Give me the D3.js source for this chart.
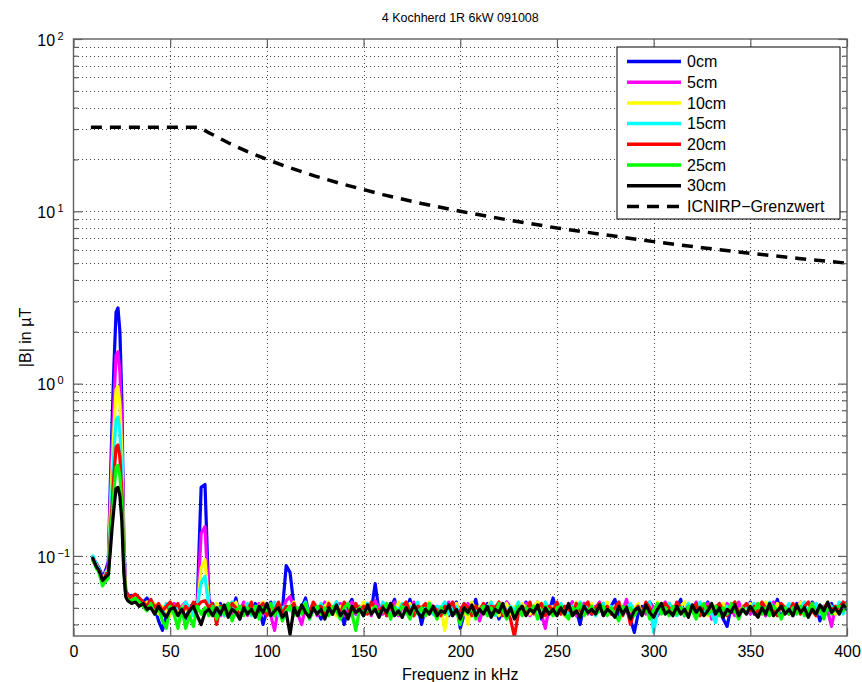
<!DOCTYPE html>
<html><head><meta charset="utf-8">
<script src="https://d3js.org/d3.v7.min.js"></script>
<style>body{margin:0;background:#fff}text{font-family:"Liberation Sans",Arial,sans-serif;fill:#000}</style>
</head><body><svg id="c" width="862" height="682"></svg>
<script>
const chartTitle = "4 Kochherd 1R 6kW 091008";
const xLabel = "Frequenz in kHz";
const yLabel = "|B| in µT";
const seriesNames = ["0cm","5cm","10cm","15cm","20cm","25cm","30cm"];
const seriesColors = ["#0000ff","#ff00ff","#ffff00","#00ffff","#ff0000","#00ff00","#000000"];
const limitName = "ICNIRP\u2212Grenzwert";
const xTicks = [0,50,100,150,200,250,300,350,400];
const yTickExps = [-1,0,1,2];

// sampling grid (kHz): 1 kHz steps up to 30, then 2 kHz steps
const freq = d3.range(10,31,1).concat(d3.range(32,401,2));

const v0cm = [.098,.093,.090,.086,.081,.076,.079,.085,.093,.25,.63,1.35,2.6,2.75,2.0,.8,.126,.063,.060,.058,.059,
.057,.057,.054,.057,.051,.050,.042,.037,.045,.053,
.048,.051,.046,.043,.050,.053,.054,.250,.260,.056,
.050,.046,.053,.045,.051,.048,.057,.043,.050,.051,
.046,.053,.050,.040,.048,.054,.045,.051,.048,.088,
.080,.051,.046,.050,.057,.045,.051,.048,.043,.053,
.050,.046,.054,.048,.040,.051,.056,.046,.050,.045,
.051,.048,.069,.048,.053,.045,.050,.056,.046,.051,
.048,.056,.045,.051,.040,.050,.053,.046,.051,.048,
.053,.045,.050,.054,.038,.046,.051,.048,.056,.045,
.050,.053,.046,.051,.043,.048,.054,.050,.045,.051,
.048,.054,.046,.050,.053,.043,.051,.048,.057,.046,
.051,.045,.050,.054,.048,.040,.053,.050,.046,.051,
.048,.053,.046,.051,.056,.045,.050,.048,.043,.036,
.046,.051,.048,.054,.050,.045,.051,.048,.053,.046,
.050,.056,.045,.051,.048,.053,.046,.050,.054,.045,
.051,.048,.043,.039,.050,.053,.046,.051,.048,.054,
.046,.050,.053,.045,.051,.048,.056,.046,.050,.051,
.045,.053,.048,.051,.046,.054,.050,.042,.051,.048,
.053,.046,.051,.050,.054];

const v5cm = [.096,.094,.088,.084,.079,.074,.077,.082,.087,.203,.44,.836,1.46,1.53,1.17,.535,.112,.062,.058,.056,.057,
.057,.056,.053,.050,.054,.048,.051,.045,.050,.046,
.053,.048,.051,.054,.046,.050,.051,.135,.148,.053,
.048,.051,.045,.050,.053,.046,.051,.048,.054,.045,
.051,.048,.053,.046,.050,.045,.037,.051,.048,.055,
.058,.050,.046,.040,.051,.048,.053,.045,.050,.054,
.046,.051,.048,.053,.045,.050,.054,.046,.051,.048,
.053,.045,.055,.050,.046,.051,.048,.054,.045,.050,
.051,.046,.054,.048,.050,.045,.053,.051,.046,.050,
.048,.054,.045,.051,.050,.046,.053,.048,.051,.042,
.050,.046,.053,.048,.051,.045,.054,.050,.046,.051,
.048,.053,.045,.050,.054,.046,.038,.051,.048,.053,
.046,.051,.050,.054,.045,.048,.053,.046,.051,.050,
.054,.045,.050,.051,.046,.053,.048,.056,.045,.050,
.051,.048,.046,.053,.050,.045,.051,.054,.048,.046,
.053,.050,.045,.051,.048,.054,.046,.050,.053,.043,
.048,.051,.046,.053,.050,.045,.054,.048,.051,.046,
.050,.053,.048,.045,.051,.054,.046,.050,.048,.051,
.046,.051,.054,.048,.045,.050,.053,.046,.051,.048,
.039,.051,.048,.053,.050];

const v10cm = [.095,.091,.089,.083,.078,.072,.076,.081,.083,.171,.332,.572,.92,.96,.762,.391,.103,.061,.059,.055,.056,
.057,.057,.051,.054,.050,.053,.046,.051,.048,.045,
.051,.046,.050,.053,.045,.051,.048,.085,.095,.051,
.046,.053,.050,.045,.051,.048,.054,.046,.050,.053,
.048,.045,.051,.054,.046,.050,.053,.048,.045,.051,
.050,.054,.046,.051,.048,.045,.053,.050,.046,.051,
.054,.048,.045,.051,.050,.053,.046,.051,.048,.054,
.046,.051,.050,.045,.053,.048,.051,.046,.054,.050,
.048,.053,.045,.051,.050,.046,.054,.048,.043,.050,
.037,.051,.048,.053,.046,.050,.040,.054,.048,.051,
.046,.051,.054,.048,.045,.050,.053,.046,.051,.048,
.053,.050,.046,.051,.054,.048,.045,.051,.050,.053,
.048,.045,.051,.050,.054,.046,.051,.048,.053,.045,
.051,.048,.054,.046,.050,.053,.045,.051,.048,.050,
.053,.046,.051,.048,.045,.054,.050,.046,.051,.048,
.045,.051,.054,.048,.050,.046,.053,.051,.045,.050,
.051,.048,.053,.046,.050,.054,.045,.051,.048,.053,
.048,.051,.046,.054,.050,.045,.053,.048,.051,.046,
.051,.048,.054,.046,.050,.053,.045,.051,.048,.054,
.050,.046,.053,.048,.051];

const v15cm = [.100,.094,.087,.085,.077,.073,.075,.080,.080,.147,.26,.412,.618,.64,.525,.298,.096,.060,.057,.056,.055,
.057,.057,.053,.050,.056,.048,.051,.046,.053,.050,
.046,.051,.048,.054,.050,.045,.051,.070,.076,.050,
.053,.048,.051,.045,.050,.054,.046,.051,.048,.053,
.045,.051,.050,.053,.046,.048,.054,.045,.050,.051,
.048,.053,.046,.050,.054,.045,.051,.048,.053,.046,
.051,.050,.054,.045,.048,.053,.046,.051,.050,.045,
.053,.048,.051,.046,.054,.050,.045,.051,.048,.053,
.046,.051,.048,.054,.045,.050,.053,.046,.051,.050,
.054,.046,.050,.051,.045,.053,.048,.051,.046,.050,
.051,.048,.054,.045,.050,.053,.046,.051,.048,.054,
.046,.050,.053,.048,.051,.045,.054,.050,.046,.051,
.053,.048,.045,.051,.050,.054,.046,.051,.048,.045,
.050,.053,.046,.051,.048,.054,.045,.050,.053,.048,
.051,.046,.050,.054,.036,.048,.051,.046,.053,.050,
.045,.051,.048,.053,.050,.046,.054,.048,.051,.046,
.041,.053,.046,.051,.048,.054,.045,.050,.051,.048,
.053,.046,.051,.048,.054,.050,.045,.051,.048,.053,
.046,.051,.050,.054,.045,.048,.053,.046,.051,.050,
.051,.048,.054,.046,.053];

const v20cm = [.094,.090,.086,.082,.078,.071,.074,.079,.077,.129,.206,.304,.427,.44,.372,.232,.0895,.062,.060,.057,.058,
.060,.057,.054,.051,.056,.050,.053,.048,.051,.054,
.050,.053,.046,.051,.048,.054,.051,.054,.055,.050,
.053,.040,.051,.051,.046,.053,.050,.045,.051,.048,
.054,.046,.050,.053,.045,.051,.048,.054,.046,.051,
.050,.053,.045,.051,.048,.046,.054,.050,.051,.045,
.053,.048,.051,.046,.054,.050,.045,.053,.048,.051,
.046,.054,.050,.048,.051,.045,.053,.050,.046,.051,
.054,.048,.045,.051,.050,.053,.046,.051,.048,.045,
.051,.050,.054,.046,.048,.053,.050,.045,.051,.048,
.053,.046,.051,.050,.054,.045,.048,.043,.034,.046,
.051,.048,.054,.046,.050,.053,.045,.051,.048,.054,
.046,.051,.050,.045,.053,.048,.051,.054,.046,.050,
.053,.048,.051,.046,.050,.054,.045,.051,.040,.048,
.051,.046,.054,.050,.045,.051,.048,.053,.050,.046,
.054,.050,.046,.051,.048,.053,.045,.050,.051,.048,
.050,.053,.048,.045,.051,.054,.046,.050,.053,.048,
.051,.046,.054,.050,.048,.051,.045,.053,.050,.046,
.053,.050,.046,.051,.054,.048,.045,.051,.050,.053,
.048,.051,.050,.054,.051];

const v25cm = [.095,.089,.084,.081,.074,.067,.070,.072,.0745,.116,.175,.244,.327,.335,.29,.193,.085,.059,.056,.054,.055,
.057,.054,.051,.048,.053,.046,.050,.042,.038,.051,
.046,.038,.050,.038,.045,.039,.051,.046,.050,.045,
.051,.043,.050,.046,.053,.042,.048,.051,.045,.050,
.046,.051,.043,.050,.048,.053,.045,.050,.042,.048,
.051,.045,.050,.046,.053,.043,.048,.051,.046,.050,
.045,.051,.048,.043,.050,.053,.046,.037,.050,.045,
.050,.046,.051,.045,.048,.053,.043,.050,.046,.051,
.048,.043,.051,.046,.050,.045,.053,.048,.043,.050,
.046,.051,.046,.048,.040,.050,.046,.051,.043,.048,
.051,.045,.050,.046,.053,.048,.043,.050,.046,.051,
.045,.050,.048,.051,.043,.046,.051,.048,.045,.050,
.051,.046,.043,.050,.048,.053,.045,.048,.051,.046,
.048,.051,.045,.050,.046,.042,.051,.048,.050,.045,
.050,.046,.051,.043,.048,.053,.046,.050,.045,.051,
.046,.050,.045,.051,.048,.043,.050,.053,.046,.048,
.051,.045,.050,.046,.053,.048,.043,.050,.046,.051,
.048,.053,.046,.050,.045,.051,.048,.043,.050,.046,
.050,.046,.051,.045,.048,.053,.046,.050,.043,.051,
.046,.050,.051,.048,.053];

const v30cm = [.097,.091,.086,.083,.078,.072,.074,.076,.078,.105,.147,.193,.246,.25,.223,.159,.081,.058,.055,.054,.053,
.054,.051,.053,.049,.050,.046,.051,.047,.044,.049,
.050,.045,.049,.044,.048,.051,.045,.040,.047,.049,
.045,.050,.046,.052,.044,.049,.047,.043,.050,.046,
.049,.044,.051,.047,.053,.045,.048,.050,.044,.047,
.035,.050,.045,.052,.047,.044,.050,.046,.049,.043,
.050,.046,.052,.045,.048,.043,.051,.047,.049,.045,
.052,.046,.049,.044,.050,.047,.053,.045,.048,.044,
.050,.046,.052,.047,.044,.049,.046,.051,.045,.048,
.047,.052,.045,.049,.043,.050,.047,.052,.045,.049,
.046,.051,.044,.049,.047,.053,.045,.050,.043,.048,
.051,.045,.049,.047,.052,.044,.050,.046,.049,.045,
.050,.046,.053,.045,.048,.044,.051,.047,.049,.046,
.052,.045,.049,.047,.044,.051,.046,.050,.043,.048,
.050,.045,.052,.047,.044,.049,.053,.046,.048,.045,
.051,.046,.049,.044,.052,.047,.050,.045,.048,.053,
.046,.050,.044,.049,.047,.052,.045,.049,.046,.051,
.047,.044,.050,.046,.053,.045,.048,.051,.046,.049,
.045,.052,.047,.050,.044,.049,.046,.052,.048,.054,
.047,.050,.046,.052,.049];

const seriesValues = [v0cm,v5cm,v10cm,v15cm,v20cm,v25cm,v30cm];

const limitFreq = [9,65,70,80,90,100,110,125,140,160,180,200,225,250,275,300,325,350,375,400];
const limitVals = [30.7,30.7,28.6,25,22.2,20,18.2,16,14.3,12.5,11.1,10,8.9,8,7.3,6.67,6.15,5.71,5.33,5];

// ---------- drawing ----------
const L = 73.5, R = 847, T = 39, B = 636;
const axisColor = "#606060";
const svg = d3.select("#c");
svg.append("rect").attr("width",862).attr("height",682).attr("fill","#fff");

const x = d3.scaleLinear().domain([0,400]).range([L,R]);
const y = d3.scaleLog().domain([0.0343,100]).range([B,T]);

// grid values for log axis
const gridY = [];
yTickExps.concat([-2]).forEach(e => { for (let k=1;k<=9;k++){ const v=k*Math.pow(10,e); if (v>y.domain()[0] && v<y.domain()[1]) gridY.push(v);} });
const minorY = gridY.filter(v => !yTickExps.some(e => Math.abs(v-Math.pow(10,e))<1e-9));
const majorY = yTickExps.map(e => Math.pow(10,e));

const grid = svg.append("g").attr("stroke","#444").attr("stroke-width",1).attr("stroke-dasharray","1,3").attr("shape-rendering","crispEdges");
gridY.forEach(v => grid.append("line").attr("x1",L).attr("x2",R).attr("y1",Math.round(y(v))+0.5).attr("y2",Math.round(y(v))+0.5));
xTicks.filter(t => t>0 && t<400).forEach(t => grid.append("line").attr("x1",Math.round(x(t))+0.5).attr("x2",Math.round(x(t))+0.5).attr("y1",T).attr("y2",B));

// data
svg.append("clipPath").attr("id","clip").append("rect").attr("x",L).attr("y",T).attr("width",R-L).attr("height",B-T);
const plot = svg.append("g").attr("clip-path","url(#clip)");
const line = d3.line().x(d=>x(d[0])).y(d=>y(d[1]));
seriesValues.forEach((vals,i) => {
  plot.append("path").datum(freq.map((f,j)=>[f,vals[j]]))
    .attr("d",line).attr("fill","none").attr("stroke",seriesColors[i])
    .attr("stroke-width",3.2).attr("stroke-linejoin","round").attr("stroke-linecap","round");
});
plot.append("path").datum(limitFreq.map((f,j)=>[f,limitVals[j]]))
  .attr("d",line).attr("fill","none").attr("stroke","#000").attr("stroke-width",3.5)
  .attr("stroke-dasharray","11,8");

// axes (ticks inside)
function styleAxis(g){ g.select(".domain").remove(); g.selectAll("line").attr("stroke",axisColor).attr("stroke-width",1.2); }
svg.append("g").attr("transform",`translate(0,${B})`)
  .call(d3.axisBottom(x).tickValues(xTicks).tickSizeInner(-8).tickSizeOuter(0).tickPadding(10).tickFormat(d3.format("d")))
  .call(styleAxis).call(g=>g.selectAll("text").attr("font-size",16).attr("fill","#000").attr("font-family","Liberation Sans, Arial, sans-serif"));
svg.append("g").attr("transform",`translate(0,${T})`)
  .call(d3.axisTop(x).tickValues(xTicks).tickSizeInner(-8).tickSizeOuter(0).tickFormat(""))
  .call(styleAxis);
[[d3.axisLeft, L],[d3.axisRight, R]].forEach(([ax,pos]) => {
  svg.append("g").attr("transform",`translate(${pos},0)`)
    .call(ax(y).tickValues(majorY).tickSizeInner(-9).tickSizeOuter(0).tickFormat(""))
    .call(styleAxis);
  svg.append("g").attr("transform",`translate(${pos},0)`)
    .call(ax(y).tickValues(minorY).tickSizeInner(-4.5).tickSizeOuter(0).tickFormat(""))
    .call(styleAxis);
});
svg.append("rect").attr("x",L).attr("y",T).attr("width",R-L).attr("height",B-T)
  .attr("fill","none").attr("stroke",axisColor).attr("stroke-width",1.4);

// y tick labels 10^e
yTickExps.forEach(e => {
  const t = svg.append("text").attr("x",37.3).attr("y",y(Math.pow(10,e))+6.7).attr("font-size",16);
  t.append("tspan").text("10");
  t.append("tspan").attr("dx",2.5).attr("dy",-6).attr("font-size",11).text(e<0 ? "\u2212"+(-e) : String(e));
});

// labels
svg.append("text").attr("x",(L+R)/2).attr("y",22).attr("text-anchor","middle").attr("font-size",12.5).text(chartTitle);
svg.append("text").attr("x",(L+R)/2).attr("y",680).attr("text-anchor","middle").attr("font-size",16).text(xLabel);
svg.append("text").attr("transform",`translate(31,${(T+B)/2}) rotate(-90)`).attr("text-anchor","middle").attr("font-size",16).text(yLabel);

// legend
const lg = svg.append("g");
lg.append("rect").attr("x",617).attr("y",47).attr("width",223).attr("height",172).attr("fill","#fff").attr("stroke","#000").attr("stroke-width",1);
const legendNames = seriesNames.concat([limitName]);
legendNames.forEach((n,i) => {
  const yy = 61.5 + i*20.7;
  const ln = lg.append("line").attr("x1",627).attr("x2",681).attr("y1",yy).attr("y2",yy)
    .attr("stroke", i<seriesColors.length ? seriesColors[i] : "#000").attr("stroke-width",3.5);
  if (i>=seriesColors.length) ln.attr("stroke-dasharray","12,8");
  lg.append("text").attr("x",687).attr("y",yy+5.7).attr("font-size",16).text(n);
});
</script></body></html>
